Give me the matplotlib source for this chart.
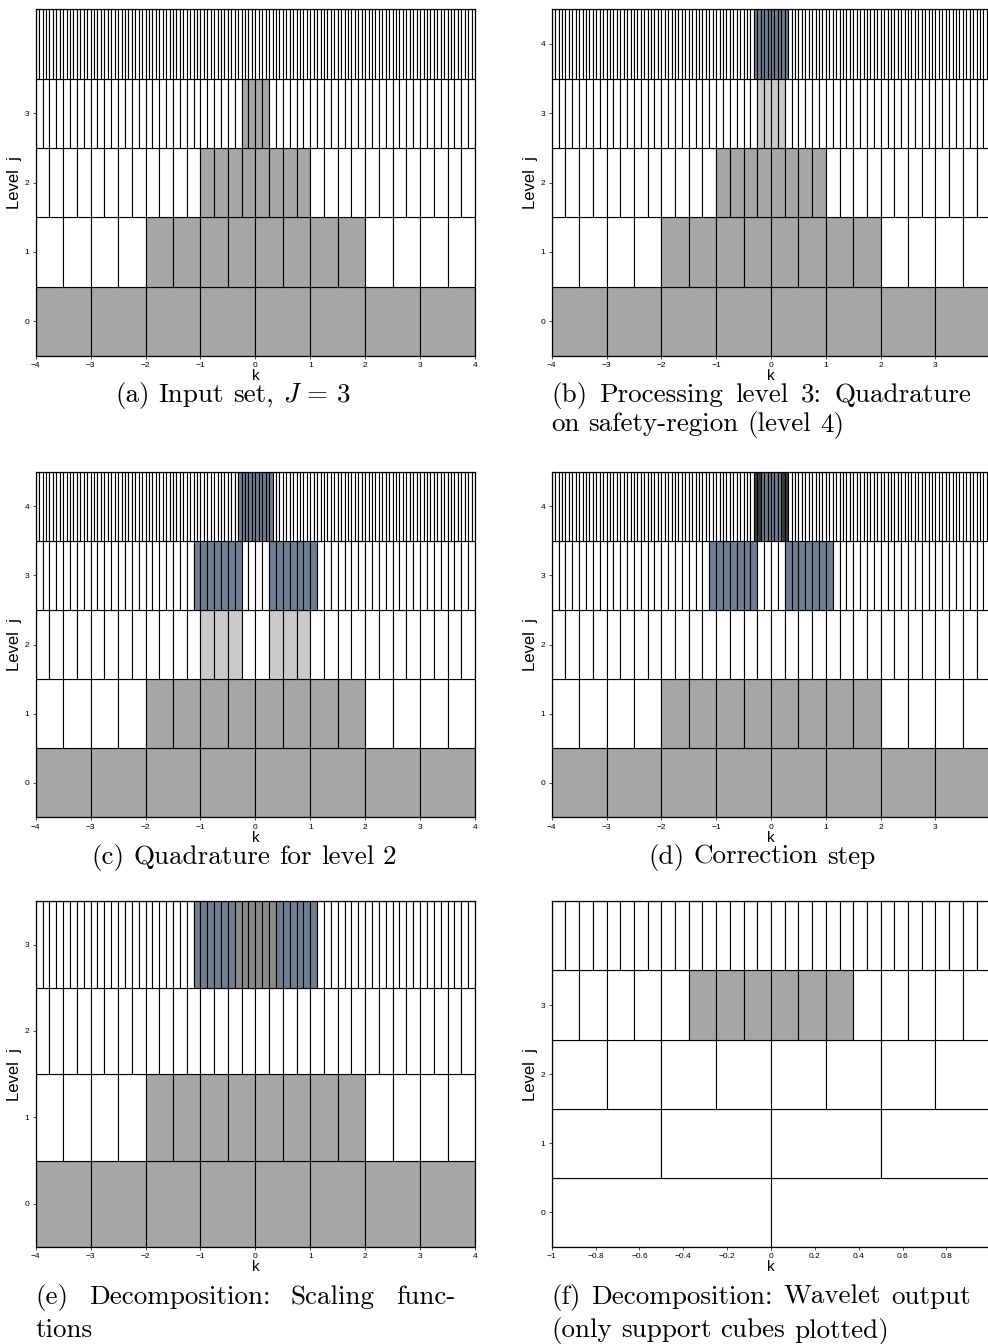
import numpy as np
import matplotlib.pyplot as plt

plt.rcParams['font.family'] = ['Liberation Sans', 'DejaVu Sans']
plt.rcParams['mathtext.fontset'] = 'cm'
plt.rcParams['axes.unicode_minus'] = True

# ---- data ----
# fills: (level j, k from, k to, shade)
fill_a = [(0, -4, 4, 'gray'), (1, -2, 2, 'gray'), (2, -1, 1, 'gray'),
          (3, -0.25, 0.25, 'gray')]
fill_b = [(0, -4, 4, 'gray'), (1, -2, 2, 'gray'), (2, -1, 1, 'gray'),
          (3, -0.25, 0.25, 'light'), (4, -0.3125, 0.3125, 'slate')]
fill_c = [(0, -4, 4, 'gray'), (1, -2, 2, 'gray'),
          (2, -1, -0.25, 'light'), (2, 0.25, 1, 'light'),
          (3, -1.125, -0.25, 'slate'), (3, 0.25, 1.125, 'slate'),
          (4, -0.3125, 0.3125, 'slate')]
fill_d = [(0, -4, 4, 'gray'), (1, -2, 2, 'gray'),
          (3, -1.125, -0.25, 'slate'), (3, 0.25, 1.125, 'slate'),
          (4, -0.3125, -0.1875, 'dark'), (4, -0.1875, 0.1875, 'slate'),
          (4, 0.1875, 0.3125, 'dark')]
fill_e = [(0, -4, 4, 'gray'), (1, -2, 2, 'gray'),
          (3, -1.125, -0.375, 'slate'), (3, -0.375, 0.375, 'mid'),
          (3, 0.375, 1.125, 'slate')]
fill_f = [(3, -0.375, 0.375, 'gray')]

levels_full = [0, 1, 2, 3, 4]
levels_e = [0, 1, 2, 3]
yticks_3 = [0, 1, 2, 3]
yticks_4 = [0, 1, 2, 3, 4]

xrange_wide = (-4, 4)
xrange_f = (-1, 1)
# left column shows the full tick set, right column is clipped by the page edge
xticks_left = [-4, -3, -2, -1, 0, 1, 2, 3, 4]
xlabels_left = ['\u22124', '\u22123', '\u22122', '\u22121', '0', '1', '2', '3', '4']
xticks_right = [-4, -3, -2, -1, 0, 1, 2, 3]
xlabels_right = ['\u22124', '\u22123', '\u22122', '\u22121', '0', '1', '2', '3']
xticks_f = [-1, -0.8, -0.6, -0.4, -0.2, 0, 0.2, 0.4, 0.6, 0.8]
xlabels_f = ['\u22121', '\u22120.8', '\u22120.6', '\u22120.4', '\u22120.2', '0',
             '0.2', '0.4', '0.6', '0.8']

captions = {
    'a': [('center', ['(a)', 'Input', 'set,', r'$J\,=\,3$'])],
    'b': [('justify', ['(b)', 'Processing', 'level', '3:', 'Quadrature']),
          ('left', ['on', 'safety-region', '(level', '4)'])],
    'c': [('center', ['(c)', 'Quadrature', 'for', 'level', '2'])],
    'd': [('center', ['(d)', 'Correction', 'step'])],
    'e': [('justify', ['(e)', 'Decomposition:', 'Scaling', 'func-']),
          ('left', ['tions'])],
    'f': [('justify', ['(f)', 'Decomposition:', 'Wavelet', 'output']),
          ('left', ['(only', 'support', 'cubes', 'plotted)'])],
}

# ---- styling ----
shade = {'gray': '#a6a6a6', 'light': '#cacaca', 'slate': '#6f7e92',
         'mid': '#8a8a8a', 'dark': '#3c3c3c'}
W, H = 988, 1344
cap_fs = 19.5

fig = plt.figure(figsize=(W / 100, H / 100), dpi=100)


def make_axes(x0, x1, y0, y1):
    return fig.add_axes([x0 / W, 1 - y1 / H, (x1 - x0) / W, (y1 - y0) / H])


def draw_cells(ax, levels, xr, fills):
    for j in levels:
        w = 2.0 ** -j
        n = int(round((xr[1] - xr[0]) / w))
        left = xr[0] + w * np.arange(n)
        cols = ['white'] * n
        for lev, a, b, c in fills:
            if lev != j:
                continue
            for i, x in enumerate(left):
                if x >= a - 1e-9 and x + w <= b + 1e-9:
                    cols[i] = shade[c]
        ax.bar(left, 1.0, width=w, bottom=j - 0.5, align='edge', color=cols,
               edgecolor='black', linewidth=0.8)


def setup(ax, xr, levels, yticks, xt, xl):
    ax.set_xlim(*xr)
    ax.set_ylim(-0.5, max(levels) + 0.5)
    ax.set_yticks(yticks)
    ax.set_xticks(xt)
    ax.set_xticklabels(xl)
    ax.tick_params(labelsize=6, length=2.5, width=0.5, direction='out', pad=2)
    ax.set_xlabel('k', fontsize=11, labelpad=0)
    ax.set_ylabel('Level  j', fontsize=12, labelpad=2)
    for s in ax.spines.values():
        s.set_linewidth(0.9)


cols_x = [(35.7, 475.0), (551.7, 990.3)]
rows_y = [(9.3, 356.0), (471.7, 817.3), (901.3, 1247.0)]

specs = [
    ('a', 0, 0, levels_full, yticks_3, xrange_wide, fill_a),
    ('b', 0, 1, levels_full, yticks_4, xrange_wide, fill_b),
    ('c', 1, 0, levels_full, yticks_4, xrange_wide, fill_c),
    ('d', 1, 1, levels_full, yticks_4, xrange_wide, fill_d),
    ('e', 2, 0, levels_e, yticks_3, xrange_wide, fill_e),
    ('f', 2, 1, levels_full, yticks_3, xrange_f, fill_f),
]

for key, r, c, levels, yt, xr, fills in specs:
    ax = make_axes(cols_x[c][0], cols_x[c][1], rows_y[r][0], rows_y[r][1])
    draw_cells(ax, levels, xr, fills)
    if key == 'f':
        setup(ax, xr, levels, yt, xticks_f, xlabels_f)
    elif c == 1:
        setup(ax, xr, levels, yt, xticks_right, xlabels_right)
    else:
        setup(ax, xr, levels, yt, xticks_left, xlabels_left)

# ---- captions (LaTeX-like, word placed) ----
renderer = fig.canvas.get_renderer()
text_cols = [(35.0, 455.0), (551.0, 971.0)]
cap_base = [(402.0, 431.0), (864.0, 897.0), (1304.0, 1337.0)]
cap_center = {'a': 233.0, 'c': 244.0, 'd': 762.0}
space = 0.333 * cap_fs * 100 / 72


def put_line(words, mode, x0, x1, y, xc=None):
    ts = [fig.text(0, 1 - y / H, wd, fontsize=cap_fs, family='cmr10',
                   va='baseline', ha='left') for wd in words]
    ws = [t.get_window_extent(renderer=renderer).width for t in ts]
    if mode == 'justify' and len(words) > 1:
        gap = (x1 - x0 - sum(ws)) / (len(words) - 1)
        x = x0
    else:
        gap = space
        total = sum(ws) + gap * (len(words) - 1)
        x = x0 if mode == 'left' else xc - total / 2
    for t, w in zip(ts, ws):
        t.set_x(x / W)
        x += w + gap


for key, r, c, *_ in specs:
    x0, x1 = text_cols[c]
    for li, (mode, words) in enumerate(captions[key]):
        put_line(words, mode, x0, x1, cap_base[r][li], cap_center.get(key))

fig.savefig('out.png', dpi=100)
